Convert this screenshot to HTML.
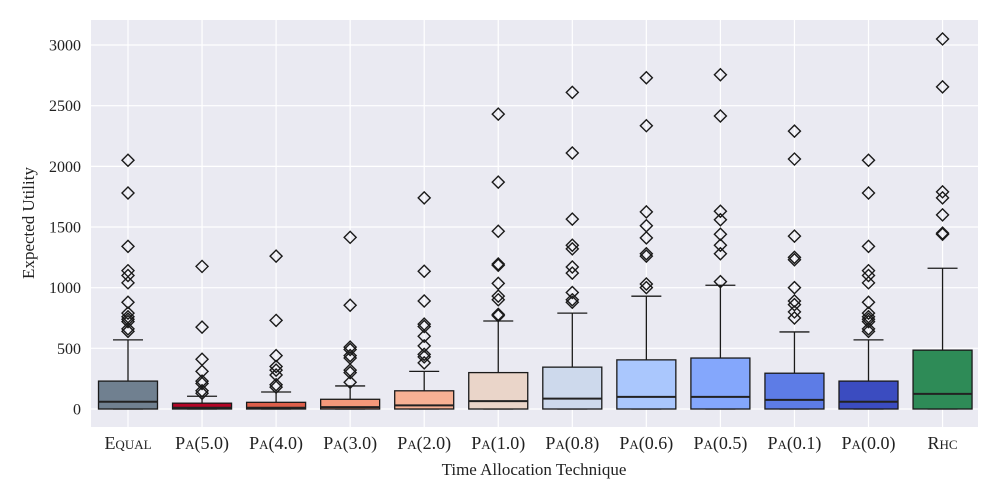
<!DOCTYPE html>
<html><head><meta charset="utf-8"><style>
body{margin:0;background:#fff}
svg{display:block;font-family:"Liberation Serif","DejaVu Serif",serif}
</style></head><body>
<svg id="chart" width="1000" height="500" viewBox="0 0 1000 500" xmlns="http://www.w3.org/2000/svg">
<rect x="91" y="20" width="887" height="407" fill="#eaeaf2"/>
<g id="grid"></g><g id="marks"></g><g id="axes"></g>
<text x="534" y="475" text-anchor="middle" font-size="17" fill="#222">Time Allocation Technique</text>
<text transform="translate(34,223) rotate(-90)" text-anchor="middle" font-size="17" fill="#222">Expected Utility</text>
</svg>
<script>
const categories=["Equal","Pa(5.0)","Pa(4.0)","Pa(3.0)","Pa(2.0)","Pa(1.0)","Pa(0.8)","Pa(0.6)","Pa(0.5)","Pa(0.1)","Pa(0.0)","Rhc"];
const q1=[0,0,0,0,0,0,0,0,0,0,0,0];
const medians=[60,10,10,15,30,65,85,100,100,75,60,125];
const q3=[230,48,55,80,150,300,345,405,420,295,230,485];
const whiskerLow=[0,0,0,0,0,0,0,0,0,0,0,0];
const whiskerHigh=[570,105,140,190,310,725,790,930,1020,635,570,1160];
const outliers=[
[2050,1780,1340,1140,1100,1040,880,790,760,740,720,660,640],
[1175,675,410,310,230,210,150,130],
[1260,730,440,350,320,280,200,180],
[1415,855,510,490,440,420,320,300,220],
[1740,1135,890,700,680,600,520,450,430,380],
[2430,1870,1465,1195,1185,1035,930,900,780,770],
[2610,2110,1565,1350,1320,1170,1120,960,900,880],
[2730,2335,1625,1510,1410,1280,1260,1030,1000],
[2755,2415,1630,1560,1440,1350,1280,1050],
[2290,2060,1425,1250,1230,1000,890,860,800,750],
[2050,1780,1340,1140,1100,1040,880,790,760,740,720,660,640],
[3050,2655,1790,1740,1600,1450,1440]];
const colors=["#708090","#b40426","#dd5f4b","#f4987a","#f7b194","#ead5c9","#cdd9ec","#aac7fd","#84a7fc","#5d7ce6","#3b4cc0","#2e8b57"];
const yTicks=[0,500,1000,1500,2000,2500,3000];
const NS="http://www.w3.org/2000/svg";
const y=v=>409-v*0.12133;
const x=i=>128+i*74.05;
function mk(tag,attrs,parent){const e=document.createElementNS(NS,tag);for(const k in attrs)e.setAttribute(k,attrs[k]);parent.appendChild(e);return e;}
const grid=document.getElementById('grid'),marks=document.getElementById('marks'),axes=document.getElementById('axes');
yTicks.forEach(t=>{
 const l=mk('line',{x1:91,x2:978,y1:y(t),y2:y(t),stroke:'#fff','stroke-width':1.2},grid);
 
 
 const tx=mk('text',{x:81,y:y(t)+5.5,'text-anchor':'end','font-size':16,fill:'#222'},axes);
 tx.textContent=t;
 
 
});
categories.forEach((c,i)=>{
 const cx=x(i);
 const gl=mk('line',{x1:cx,x2:cx,y1:20,y2:427,stroke:'#fff','stroke-width':1.2},grid);
 
 
 const g=mk('g',{},marks);
 
 
 const st={stroke:'#1a1a1a','stroke-width':1.3,fill:'none'};
 mk('line',Object.assign({x1:cx,x2:cx,y1:y(q3[i]),y2:y(whiskerHigh[i])},st),g);
 mk('line',Object.assign({x1:cx-15,x2:cx+15,y1:y(whiskerHigh[i]),y2:y(whiskerHigh[i])},st),g);
 mk('line',Object.assign({x1:cx-15,x2:cx+15,y1:y(whiskerLow[i]),y2:y(whiskerLow[i])},st),g);
 mk('rect',{x:cx-29.5,y:y(q3[i]),width:59,height:y(q1[i])-y(q3[i]),fill:colors[i],stroke:'#1a1a1a','stroke-width':1.3},g);
 mk('line',{x1:cx-29.5,x2:cx+29.5,y1:y(medians[i]),y2:y(medians[i]),stroke:'#222','stroke-width':2},g);
 outliers[i].forEach(v=>{
  const py=y(v);
  const d=mk('path',{d:`M${cx} ${py-6}L${cx+6} ${py}L${cx} ${py+6}L${cx-6} ${py}Z`,fill:'none',stroke:'#1a1a1a','stroke-width':1.4},g);
  
  
 });
 const t=mk('text',{x:cx,y:449,'text-anchor':'middle','font-size':18,fill:'#222','font-variant':'small-caps'},axes);
 t.textContent=c;
 
 
});
</script>
</body></html>
